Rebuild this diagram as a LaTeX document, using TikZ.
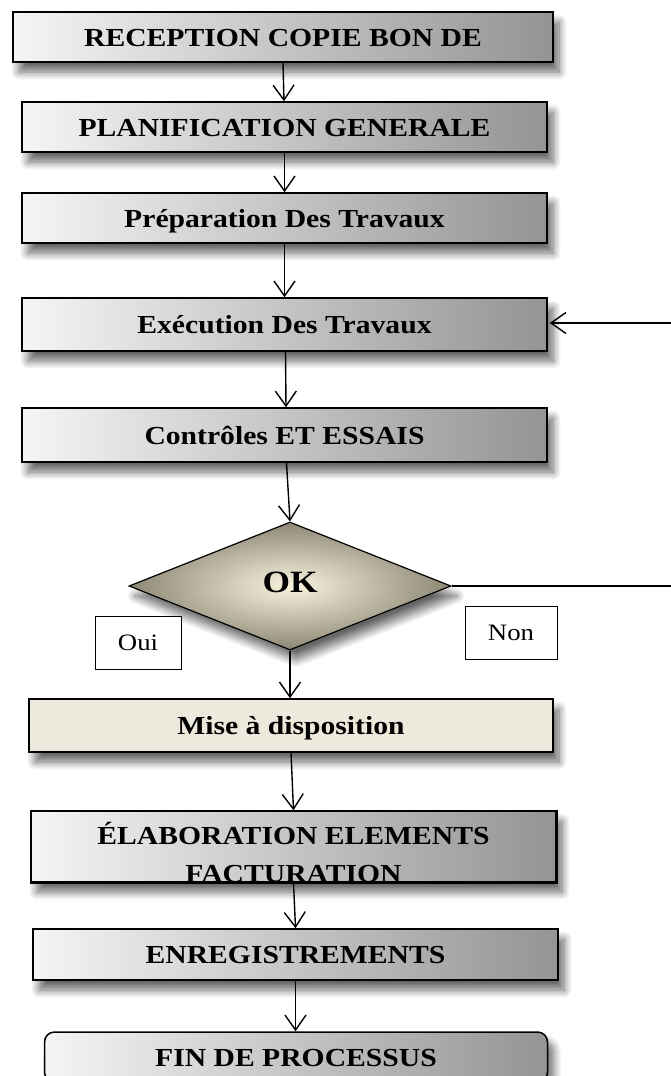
\documentclass[tikz,border=0pt]{standalone}
\usepackage{fontspec}
\usepackage{graphicx}
\setmainfont{Liberation Serif}
\usetikzlibrary{arrows.meta,shapes.geometric,shadows.blur}

% slightly widened lettering used in all boxes
\newcommand{\wide}[1]{\scalebox{1.14}[1]{#1}}

\definecolor{creamfill}{RGB}{237,234,221}
\definecolor{okinner}{RGB}{249,243,222}
\definecolor{okouter}{RGB}{140,136,116}

\tikzset{
  softshadow/.style={blur shadow={shadow xshift=6pt, shadow yshift=-10pt,
      shadow blur radius=8pt, shadow blur steps=12, shadow opacity=60}},
  boxtext/.style={inner sep=0pt, text height=18pt, text depth=0pt,
      font=\fontsize{26}{30}\selectfont\bfseries},
  stepbox/.style={boxtext, draw=black, line width=1.5pt,
      left color=black!4, right color=black!42,
      minimum width=525pt, minimum height=50pt, softshadow},
  creambox/.style={stepbox, fill=creamfill, shading=, left color=creamfill, right color=creamfill},
  endbox/.style={stepbox, rounded corners=10pt},
  okdiamond/.style={diamond, draw=black, line width=1.2pt, inner sep=0pt,
      aspect=2.5, minimum width=322pt, minimum height=128pt,
      inner color=okinner, outer color=okouter, softshadow},
  oktext/.style={inner sep=0pt, font=\fontsize{31}{34}\selectfont\bfseries},
  lblbox/.style={draw=black, line width=0.8pt, fill=white, inner sep=0pt,
      minimum height=53pt, text height=15pt, text depth=0pt,
      font=\fontsize{23.5}{26}\selectfont},
  arr/.style={-{Straight Barb[length=15pt,width=21pt]}, line width=1.4pt},
  plain/.style={line width=1.4pt},
}

\begin{document}
\begin{tikzpicture}[x=1pt, y=-1pt]
  \useasboundingbox (0,0) rectangle (671,1076);
  \clip (0,0) rectangle (671,1076);

  % process steps
  \node[stepbox, minimum width=540pt] (b1) at (283,37) {\wide{RECEPTION COPIE BON DE}};
  \node[stepbox] (b2) at (284.5,127) {\wide{PLANIFICATION GENERALE}};
  \node[stepbox] (b3) at (284.5,218) {\wide{Préparation Des Travaux}};
  \node[stepbox, minimum height=53pt] (b4) at (284.5,324.5) {\wide{Exécution Des Travaux}};
  \node[stepbox, minimum height=54pt] (b5) at (284.5,435) {\wide{Contrôles ET ESSAIS}};

  % decision
  \node[okdiamond] (ok) at (290,586) {};
  \node[oktext] (oklabel) at (290,582) {\wide{OK}};
  \node[lblbox, minimum width=86pt] (oui) at (138,642.5) {\wide{Oui}};
  \node[lblbox, minimum width=92pt] (non) at (511,632.5) {\wide{Non}};

  \node[creambox, minimum width=524pt, minimum height=53pt] (b6) at (291,725.5) {\wide{Mise à disposition}};

  % two-line step, text cut by the frame
  \node[stepbox, minimum height=71pt] (b7) at (293.5,846.5) {};
  \begin{scope}
    \clip (b7.south west) rectangle (b7.north east);
    \node[boxtext] (b7a) at (293.5,835) {\wide{ÉLABORATION ELEMENTS}};
    \node[boxtext] (b7b) at (293.5,873.5) {\wide{FACTURATION}};
  \end{scope}
  \draw[line width=1.5pt] (b7.south west) rectangle (b7.north east);

  \node[stepbox, minimum height=51pt] (b8) at (295.5,954.5) {\wide{ENREGISTREMENTS}};
  \node[endbox, minimum width=503pt] (b9) at (296,1057) {\wide{FIN DE PROCESSUS}};

  % loop-back ends leaving on the right
  \coordinate (back) at (671,323);
  \coordinate (nonend) at (671,586);

  % connectors
  \draw[arr] (b1.south) -- ([xshift=-0.5pt]b2.north);
  \draw[arr] (b2.south) -- (b3.north);
  \draw[arr] (b3.south) -- (b4.north);
  \draw[arr] ([xshift=1pt]b4.south) -- ([xshift=1.5pt]b5.north);
  \draw[arr] ([xshift=2pt]b5.south) -- (ok.north);
  \draw[arr] (ok.south) -- ([xshift=-1pt]b6.north);
  \draw[arr] (b6.south) -- (b7.north);
  \draw[arr] (b7.south) -- (b8.north);
  \draw[arr] (b8.south) -- ([xshift=-0.5pt]b9.north);
  \draw[plain] (ok.east) -- (nonend);
  \draw[arr] (back) -- ([xshift=2pt]b4.east |- back);
\end{tikzpicture}
\end{document}
